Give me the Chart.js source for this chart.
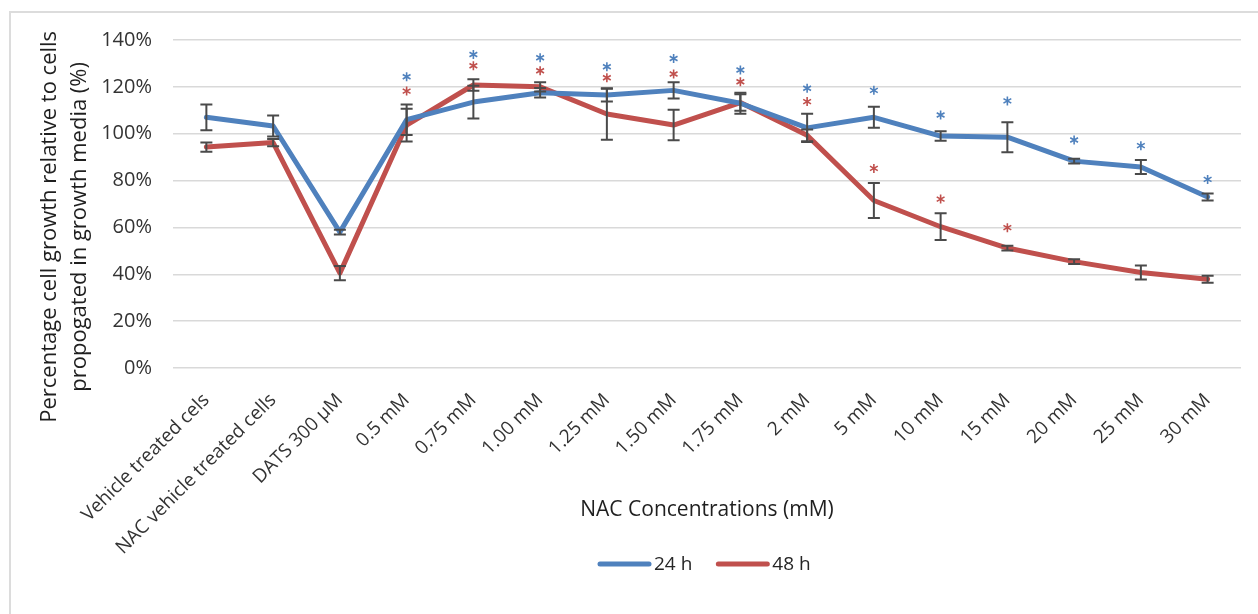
<!DOCTYPE html>
<html>
<head>
<meta charset="utf-8">
<script src="https://cdn.jsdelivr.net/npm/chart.js@4.4.1/dist/chart.umd.min.js"></script>
<style>
  html, body { margin: 0; padding: 0; background: #fff; }
  #wrap { position: relative; width: 1258px; height: 614px; overflow: hidden; }
  #frame { position: absolute; left: 9px; top: 11px; right: -4px; bottom: -4px;
           border-left: 2px solid #dcdcdc; border-top: 2px solid #dcdcdc; }
  canvas { position: absolute; left: 0; top: 0; }
</style>
</head>
<body>
<div id="wrap"><div id="frame"></div><canvas id="chart" width="1258" height="614"></canvas></div>
<script>
const categories = [
  'Vehicle treated cels', 'NAC vehicle treated cells', 'DATS 300 \u00b5M',
  '0.5 mM', '0.75 mM', '1.00 mM', '1.25 mM', '1.50 mM', '1.75 mM',
  '2 mM', '5 mM', '10 mM', '15 mM', '20 mM', '25 mM', '30 mM',
];

// mean growth, % of cells in growth media
const growth24 = [107, 103.3, 58, 106, 113.5, 117.5, 116.5, 118.5, 113, 102.5, 107, 99, 98.5, 88.3, 85.8, 73];
const growth48 = [94.3, 96.2, 40.5, 103.7, 120.8, 120, 108.4, 103.7, 113.3, 99.3, 71.5, 60.3, 51.2, 45.4, 40.8, 37.9];

// error bar half-widths
const err24 = [5.5, 4.5, 1, 6.5, 7, 2, 2.7, 3.5, 4.5, 6, 4.5, 2, 6.4, 1, 3, 1.5];
const err48 = [2, 1.5, 3, 7, 2.5, 2, 11, 6.5, 3.5, 2.5, 7.5, 5.7, 1, 1, 3, 1.5];

// significance asterisk heights (null = none)
const star24 = [null, null, null, 124.3, 133.8, 132.4, 128.6, 132.1, 127.2, 119.4, 118.5, 108, 114, 97.3, 94.9, 80.5];
const star48 = [null, null, null, 118.2, 129, 126.9, 123.9, 125.5, 122.2, 113.7, 85.2, 72.1, 59.9, null, null, null];

const BLUE = '#4f81bd';
const RED = '#c0504d';
const FONT = '"Open Sans", "DejaVu Sans", sans-serif';

const errorBars = {
  id: 'errorBars',
  afterDatasetsDraw(chart) {
    const { ctx, scales: { x, y } } = chart;
    const sets = [[growth24, err24], [growth48, err48]];
    ctx.save();
    ctx.strokeStyle = '#4a4a4a';
    ctx.lineWidth = 2;
    for (const [vals, errs] of sets) {
      vals.forEach((v, i) => {
        const px = x.getPixelForValue(i);
        const top = y.getPixelForValue(v + errs[i]);
        const bot = y.getPixelForValue(v - errs[i]);
        ctx.beginPath();
        ctx.moveTo(px, top); ctx.lineTo(px, bot);
        ctx.moveTo(px - 6, top); ctx.lineTo(px + 6, top);
        ctx.moveTo(px - 6, bot); ctx.lineTo(px + 6, bot);
        ctx.stroke();
      });
    }
    ctx.restore();
  },
};

const asterisks = {
  id: 'asterisks',
  afterDatasetsDraw(chart) {
    const { ctx, scales: { x, y } } = chart;
    ctx.save();
    ctx.lineWidth = 1.6;
    for (const [vals, color] of [[star24, BLUE], [star48, RED]]) {
      ctx.strokeStyle = color;
      vals.forEach((v, i) => {
        if (v == null) return;
        const px = x.getPixelForValue(i);
        const py = y.getPixelForValue(v);
        ctx.beginPath();
        for (let k = 0; k < 3; k++) {
          const a = Math.PI / 2 + (k * Math.PI) / 3;
          ctx.moveTo(px - 4.5 * Math.cos(a), py - 4.5 * Math.sin(a));
          ctx.lineTo(px + 4.5 * Math.cos(a), py + 4.5 * Math.sin(a));
        }
        ctx.stroke();
      });
    }
    ctx.restore();
  },
};

// legend row under the axis title, Excel style
const bottomLegend = {
  id: 'bottomLegend',
  afterDraw(chart) {
    const { ctx } = chart;
    let left = 600;
    ctx.save();
    ctx.font = `19px ${FONT}`;
    ctx.textBaseline = 'middle';
    ctx.fillStyle = '#262626';
    for (const ds of chart.data.datasets) {
      ctx.strokeStyle = ds.borderColor;
      ctx.lineWidth = 5;
      ctx.lineCap = 'round';
      ctx.beginPath();
      ctx.moveTo(left, 564);
      ctx.lineTo(left + 49, 564);
      ctx.stroke();
      ctx.fillText(ds.label, left + 54, 565);
      left += 54 + ctx.measureText(ds.label).width + 26;
    }
    ctx.restore();
  },
};

new Chart(document.getElementById('chart'), {
  type: 'line',
  data: {
    labels: categories,
    datasets: [
      { label: '24 h', data: growth24, borderColor: BLUE, backgroundColor: BLUE },
      { label: '48 h', data: growth48, borderColor: RED, backgroundColor: RED },
    ],
  },
  plugins: [errorBars, asterisks, bottomLegend],
  options: {
    responsive: false,
    animation: false,
    layout: { padding: { left: 31, top: 40, right: 17, bottom: 0 } },
    elements: {
      line: { borderWidth: 5, tension: 0, borderJoinStyle: 'round', borderCapStyle: 'round' },
      point: { radius: 0 },
    },
    plugins: {
      legend: { display: false },
      tooltip: { enabled: false },
    },
    scales: {
      x: {
        offset: true,
        grid: { display: false },
        border: { display: false },
        ticks: {
          autoSkip: false,
          minRotation: 45,
          maxRotation: 45,
          padding: 13,
          color: '#333333',
          font: { family: FONT, size: 19 },
        },
        title: {
          display: true,
          text: 'NAC Concentrations (mM)',
          color: '#1f1f1f',
          font: { family: FONT, size: 21 },
          padding: { top: 0, bottom: 91 },
        },
        afterFit(scale) { scale.height = 246; },
      },
      y: {
        min: 0,
        max: 140,
        grid: { color: '#d9d9d9', lineWidth: 1.5, drawTicks: false },
        border: { display: false },
        ticks: {
          stepSize: 20,
          padding: 21,
          color: '#333333',
          font: { family: FONT, size: 20 },
          callback: (v) => `${v}%`,
        },
        title: {
          display: true,
          // trailing spaces nudge the rotated title down a little, as in the original
          text: ['Percentage cell growth relative to cells        ', 'propogated in growth media (%)        '],
          color: '#1f1f1f',
          font: { family: FONT, size: 22, lineHeight: 1.35 },
          padding: { top: 4, bottom: 0 },
        },
        afterFit(scale) { scale.width = 142; },
      },
    },
  },
});
</script>
</body>
</html>
